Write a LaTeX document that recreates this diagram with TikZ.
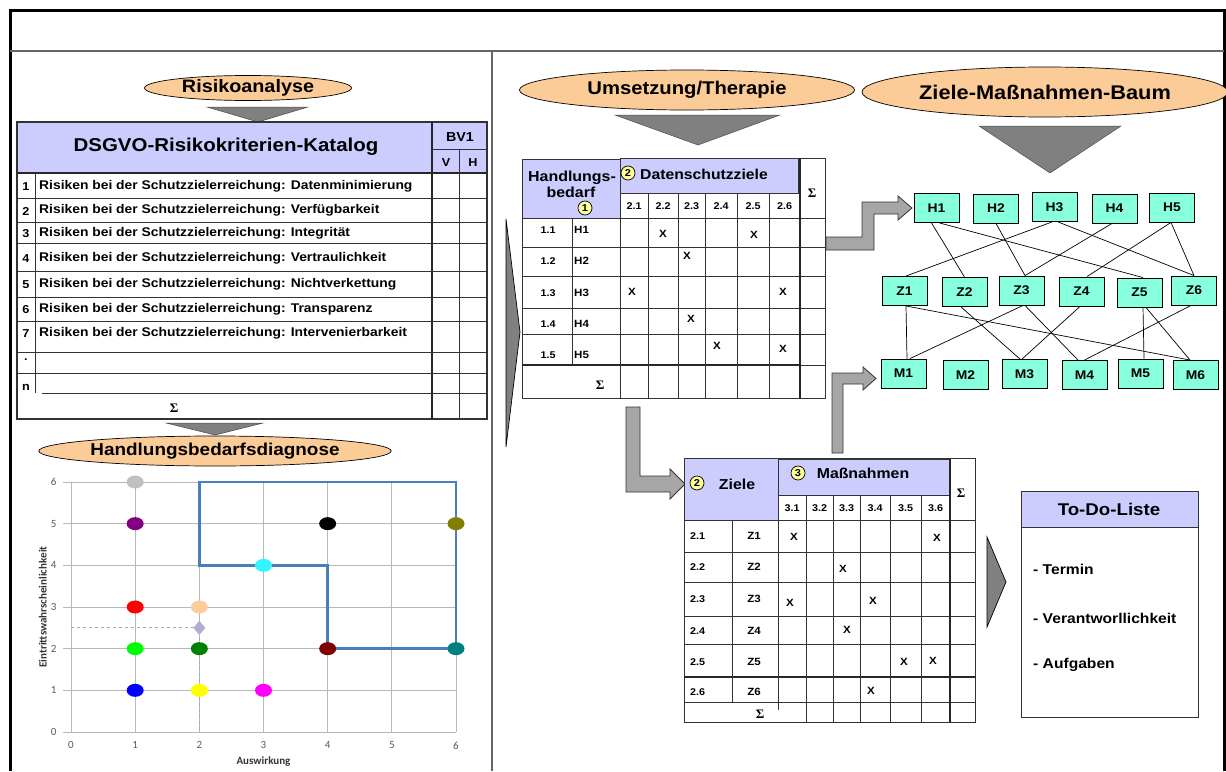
\documentclass[tikz,border=0pt]{standalone}
\usepackage{fontspec}
\setmainfont{Liberation Sans}[FakeStretch=1.1]
\newfontfamily\chartfont{Carlito}
\newfontfamily\sigfont{Liberation Serif}
\usetikzlibrary{shapes.geometric}
\definecolor{peach}{HTML}{FBCB98}
\definecolor{lav}{HTML}{CCCCFF}
\definecolor{aqua}{HTML}{88FFDD}
\definecolor{trigray}{HTML}{808080}
\definecolor{arrgray}{HTML}{A6A6A6}
\definecolor{gridgray}{HTML}{B8B8B8}
\definecolor{plotblue}{HTML}{4A7EBB}
\definecolor{cyel}{HTML}{FFFF99}
\definecolor{dsilver}{HTML}{C0C0C0}
\definecolor{dpurple}{HTML}{800080}
\definecolor{dolive}{HTML}{808000}
\definecolor{dcyan}{HTML}{33F5FF}
\definecolor{dred}{HTML}{FF0000}
\definecolor{dpeach}{HTML}{FFCC99}
\definecolor{dlime}{HTML}{00FF00}
\definecolor{dgreen}{HTML}{008000}
\definecolor{dmaroon}{HTML}{800000}
\definecolor{dteal}{HTML}{008080}
\definecolor{dblue}{HTML}{0000FF}
\definecolor{dyellow}{HTML}{FFFF00}
\definecolor{dmagenta}{HTML}{FF00FF}
\definecolor{ddiam}{HTML}{B4AAD2}
\definecolor{dashcol}{HTML}{A0A8C8}
\definecolor{tickcol}{HTML}{595959}
\begin{document}
\begin{tikzpicture}[x=1pt,y=-1pt,
  fb/.style={font=\fontsize{#1}{#1}\selectfont\bfseries},
  oval/.style={ellipse,draw=black,line width=0.7,fill=peach,inner sep=0},
  tri/.style={fill=trigray,draw=black!70,line width=0.5},
  tl/.style={black!80,line width=0.9},
  thk/.style={black!85,line width=1.8},
  tnode/.style={draw=black,line width=0.9,fill=aqua,minimum width=45,minimum height=29,inner sep=0,fb=12.6},
  tline/.style={black,line width=0.7},
  cnum/.style={circle,draw=black,line width=0.7,fill=cyel,inner sep=0,minimum size=14,fb=10},
  sig/.style={font=\sigfont\bfseries\fontsize{13}{13}\selectfont},
  bararrow/.style={fill=arrgray,draw=black!80,line width=0.8},
  tick/.style={font=\chartfont\fontsize{11}{11}\selectfont,text=tickcol},
  axlab/.style={font=\chartfont\bfseries\fontsize{11}{11}\selectfont,text=black!80}
]
\useasboundingbox (0,0) rectangle (1226,771);

% frame
\draw[black,line width=3] (10,771) -- (10,10) -- (1224,10) -- (1224,771);
\draw[black!60,line width=1.5] (10,51) -- (1224,51);
\draw[black!60,line width=1.2] (492,51) -- (492,771);

% ===== Left panel: Risikoanalyse =====
\node[oval,minimum width=207,minimum height=25,fb=18] (risk) at (248,88) {Risikoanalyse};
\filldraw[tri] (207,107) -- (308,107) -- (258,122) -- cycle;

% catalog table
\fill[lav] (17,122) rectangle (487,173);
\draw[tl,line width=1.2] (17,122) rectangle (487,419);
\draw[thk] (17,173) -- (487,173);
\draw[thk] (432,122) -- (432,419);
\draw[tl] (432,149) -- (487,149);
\draw[tl] (459,149) -- (459,419);
\foreach \yy in {198,222,243,271,297,321,352,373} \draw[tl] (17,\yy) -- (487,\yy);
\draw[tl] (42,393) -- (487,393);
\draw[tl] (35,173) -- (35,393);
\node[fb=18.6] (cattitle) at (226,147) {DSGVO-Risikokriterien-Katalog};
\node[fb=13] (bv) at (460,137) {BV1};
\node[fb=11.5] (cv) at (446,163) {V};
\node[fb=11.5] (ch) at (473,163) {H};
\foreach \n/\yy/\t in {1/186/Datenminimierung,2/210/Verfügbarkeit,3/233/Integrität,4/258/Vertraulichkeit,5/284/Nichtverkettung,6/309/Transparenz,7/333/Intervenierbarkeit}{
  \node[fb=11.5] (cn\n) at (26,\yy+1) {\n};
  \node[fb=12.6,anchor=west,inner sep=0] (ct\n) at (39,\yy) {Risiken bei der Schutzzielerreichung: \t};
}
\node[fb=11.5] (cdot) at (26,360) {.};
\node[fb=11.5] (cnn) at (26,387) {n};
\node[sig] (csum) at (174,408) {Σ};
\filldraw[tri] (166,423) -- (263,423) -- (215,435) -- cycle;

% ===== Handlungsbedarfsdiagnose =====
\node[oval,minimum width=305,minimum height=30,fb=17.2] (hbd) at (215,451) {Handlungsbedarfsdiagnose};

\begin{scope}[shift={(71,732)},x=64.17pt,y=41.67pt]
  \foreach \i in {0,...,6} {
    \draw[gridgray,line width=0.9] (\i,0) -- (\i,6);
    \draw[gridgray,line width=0.9] (-0.12,\i) -- (6,\i);
    \node[tick] at (\i,-0.32) {\i};
    \node[tick] at (-0.27,\i) {\i};
  }
  \draw[dashcol,dashed,line width=0.8] (0,2.5) -- (2,2.5) -- (2,0);
  \draw[plotblue,line width=2.6,line join=miter] (2,6) -- (6,6) -- (6,2) -- (4,2) -- (4,4) -- (2,4) -- cycle;
  \foreach \px/\py/\pc in {1/6/dsilver,1/5/dpurple,4/5/black,6/5/dolive,3/4/dcyan,1/3/dred,2/3/dpeach,1/2/dlime,2/2/dgreen,4/2/dmaroon,6/2/dteal,1/1/dblue,2/1/dyellow,3/1/dmagenta}
    \fill[\pc] (\px,\py) ellipse [x radius=8.5pt,y radius=6.5pt];
  \fill[ddiam] (2,2.5) +(0pt,7pt) -- +(6pt,0pt) -- +(0pt,-7pt) -- +(-6pt,0pt) -- cycle;
  \node[axlab] (axx) at (3,-0.7) {Auswirkung};
  \node[axlab,rotate=90] (axy) at (-0.44,3) {Eintrittswahrscheinlichkeit};
\end{scope}

% ===== Middle: Umsetzung/Therapie =====
\node[oval,minimum width=335,minimum height=40,fb=18.4] (umt) at (687,90) {Umsetzung/Therapie};
\filldraw[tri] (615,115) -- (780,115) -- (698,145) -- cycle;

% wedge left of table 1
\filldraw[fill=trigray,draw=black,line width=0.7] (506,219) -- (520,332) -- (506,447) -- cycle;

% table 1
\draw[tl,fill=lav] (522,159) rectangle (620,218);
\draw[tl,fill=lav] (620,158) rectangle (798,193);
\draw[tl] (620,158) -- (825,158) -- (825,398) -- (522,398) -- (522,218);
\draw[tl] (522,218) -- (825,218);
\foreach \yy in {247,276,308,334} \draw[tl] (522,\yy) -- (825,\yy);
\draw[thk] (522,365) -- (800,365);
\draw[tl] (800,365) -- (825,365);
\draw[tl] (572,218) -- (572,365);
\draw[tl] (620,218) -- (620,398);
\foreach \xx in {648,678,705,737,769} \draw[tl] (\xx,193) -- (\xx,398);
\draw[thk] (800,158) -- (800,398);
\node[fb=14.5,align=center,inner sep=0] (hb1) at (572,178) {Handlungs-};
\node[fb=14.5,inner sep=0] (hb2) at (571,192) {bedarf};
\node[cnum] (c1) at (585,208) {1};
\node[cnum] (c2a) at (628,173) {2};
\node[fb=14.3,anchor=west,inner sep=0] (dsz) at (640,174) {Datenschutzziele};
\node[sig] (s1) at (812,193) {Σ};
\foreach \lab/\xx in {2.1/634,2.2/663,2.3/691.5,2.4/721,2.5/753,2.6/784.5}
  \node[fb=9.8] (h\lab) at (\xx,206) {\lab};
\foreach \n/\yy in {1/230,2/261,3/293,4/324,5/355}{
  \node[fb=9.8] (r1n\n) at (548,\yy) {1.\n};
  \node[fb=10.5,anchor=west,inner sep=0] (r1h\n) at (574,\yy) {H\n};
}
\foreach \xx/\yy [count=\k] in {663/234,754/235,687/256,632/292,783/292,691/319,717/346,783/349}
  \node[fb=10.5] (xa\k) at (\xx,\yy) {X};
\node[sig] (s1b) at (600,385) {Σ};

% ===== Tree =====
\node[oval,minimum width=366,minimum height=50,fb=19.8] (zmb) at (1045,92) {Ziele-Maßnahmen-Baum};
\filldraw[tri] (979,126) -- (1121,126) -- (1050,173) -- cycle;

\node[tnode] (H1) at (936.5,208) {H1};
\node[tnode] (H2) at (996,208.5) {H2};
\node[tnode] (H3) at (1054.5,207) {H3};
\node[tnode] (H4) at (1114.5,208.5) {H4};
\node[tnode] (H5) at (1172,207.5) {H5};
\node[tnode] (Z1) at (904.5,291) {Z1};
\node[tnode] (Z2) at (964.5,292) {Z2};
\node[tnode] (Z3) at (1021.5,290.5) {Z3};
\node[tnode] (Z4) at (1081.5,291.5) {Z4};
\node[tnode] (Z5) at (1139.5,292.5) {Z5};
\node[tnode] (Z6) at (1194,290.5) {Z6};
\node[tnode] (M1) at (903.5,373.5) {M1};
\node[tnode] (M2) at (965.5,375) {M2};
\node[tnode] (M3) at (1024.5,374) {M3};
\node[tnode] (M4) at (1084.5,375) {M4};
\node[tnode] (M5) at (1140.5,373.5) {M5};
\node[tnode] (M6) at (1195.5,375) {M6};

\draw[tline] ([xshift=-5pt]H1.south) -- (Z2.north);
\draw[tline] ([xshift=3pt]H1.south) -- ([xshift=3.5pt]Z5.north);
\draw[tline] (H2.south) -- ([xshift=3.5pt]Z3.north);
\draw[tline] ([xshift=-2.5pt]H3.south) -- ([xshift=1.5pt]Z1.north);
\draw[tline] ([xshift=3.5pt]H3.south) -- (Z6.north);
\draw[tline] ([xshift=-2.5pt]H4.south) -- ([xshift=3.5pt]Z3.north);
\draw[tline] ([xshift=-1pt]H5.south) -- ([xshift=5.5pt]Z4.north);
\draw[tline] ([xshift=-1pt]H5.south) -- (Z6.north);

\draw[tline] ([xshift=1.5pt]Z1.south) -- ([xshift=3.5pt]M1.north);
\draw[tline] ([xshift=1.5pt]Z1.south) -- ([xshift=-5.5pt]M6.north);
\draw[tline] ([xshift=-3.5pt]Z2.south) -- ([xshift=-4.5pt]M3.north);
\draw[tline] ([xshift=1.5pt]Z3.south) -- ([xshift=6.5pt]M1.north);
\draw[tline] ([xshift=3.5pt]Z3.south) -- ([xshift=-6.5pt]M4.north);
\draw[tline] ([xshift=-1.5pt]Z4.south) -- ([xshift=-2.5pt]M3.north);
\draw[tline] ([xshift=3.5pt]Z5.south) -- ([xshift=3.5pt]M5.north);
\draw[tline] ([xshift=6.5pt]Z5.south) -- ([xshift=-5.5pt]M6.north);
\draw[tline] ([xshift=-3pt]Z6.south) -- (M4.north);

% bar arrows
\filldraw[bararrow] (826,237) -- (862,237) -- (862,202) -- (898,202) -- (898,196) -- (912,208) -- (898,220) -- (898,214) -- (874,214) -- (874,250) -- (826,250) -- cycle;
\filldraw[bararrow] (626,407) -- (640,407) -- (640,476) -- (670,476) -- (670,469) -- (685,484) -- (670,499) -- (670,492) -- (626,492) -- cycle;
\filldraw[bararrow] (832,453) -- (832,373) -- (863,373) -- (863,367) -- (876,378.5) -- (863,390) -- (863,384) -- (843,384) -- (843,453) -- cycle;

% ===== table 2 =====
\draw[tl,fill=lav] (684,458) rectangle (778,520);
\draw[tl,fill=lav] (778,459) rectangle (949,495);
\draw[tl] (778,458) -- (975,458) -- (975,722) -- (684,722) -- (684,520);
\draw[tl] (684,520) -- (975,520);
\foreach \yy in {552,582,616,644,702} \draw[tl] (684,\yy) -- (975,\yy);
\draw[thk] (684,677) -- (975,677);
\draw[tl] (732,520) -- (732,702);
\draw[tl] (778,520) -- (778,710);
\foreach \xx in {806,833,860,890,921} \draw[tl] (\xx,495) -- (\xx,722);
\draw[thk] (950,459) -- (950,722);
\node[cnum] (c2b) at (697,483) {2};
\node[fb=14.4] (zl) at (737,484) {Ziele};
\node[cnum] (c3) at (798,473) {3};
\node[fb=14.4] (mn) at (863,473) {Maßnahmen};
\node[sig] (s2) at (961,493) {Σ};
\foreach \lab/\xx in {3.1/792,3.2/819.5,3.3/846.5,3.4/875,3.5/905.5,3.6/935.5}
  \node[fb=9.8] (g\lab) at (\xx,508) {\lab};
\foreach \n/\yy in {1/536,2/567,3/599,4/631,5/662,6/692}{
  \node[fb=9.8,anchor=west,inner sep=0] (r2n\n) at (690,\yy) {2.\n};
  \node[fb=10.5] (r2z\n) at (754,\yy) {Z\n};
}
\foreach \xx/\yy [count=\k] in {794/537,937/538,843/569,790/603,873/601,847/630,904/662,933/661,871/691}
  \node[fb=10.5] (xb\k) at (\xx,\yy) {X};
\node[sig] (s2b) at (760,714) {Σ};

% wedge right of table 2
\filldraw[fill=trigray,draw=black,line width=0.7] (987,537) -- (1006,582) -- (987,627) -- cycle;

% To-Do-Liste
\draw[tl,fill=lav] (1021,491) rectangle (1198,527);
\draw[tl] (1021,491) rectangle (1198,717);
\node[fb=17] (todo) at (1109,509) {To-Do-Liste};
\node[fb=14.2,anchor=west,inner sep=0] (td1) at (1033,569) {- Termin};
\node[fb=14.2,anchor=west,inner sep=0] (td2) at (1033,618) {- Verantworllichkeit};
\node[fb=14.2,anchor=west,inner sep=0] (td3) at (1033,665) {- Aufgaben};
\end{tikzpicture}
\end{document}
